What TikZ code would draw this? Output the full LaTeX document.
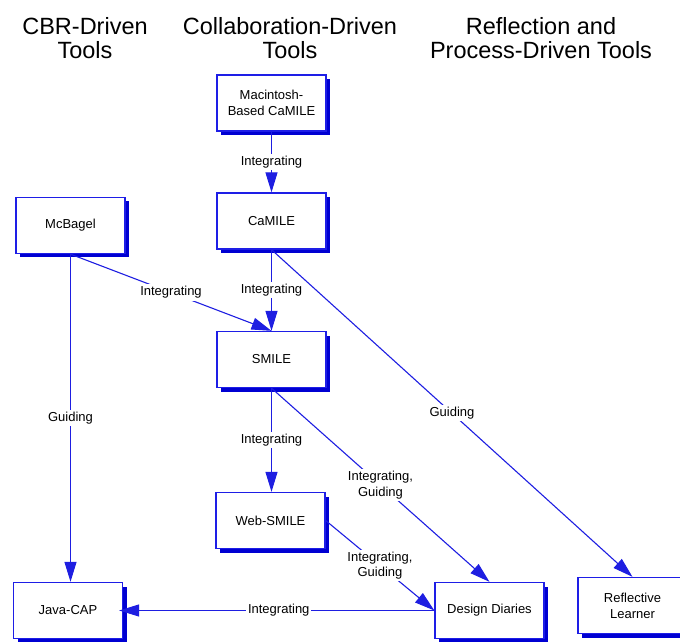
\documentclass[tikz,border=0pt]{standalone}
\usepackage{fontspec}
\setmainfont{Liberation Sans}
\usetikzlibrary{arrows.meta,shadows}
\definecolor{bl}{RGB}{30,30,230}
\definecolor{ln}{RGB}{30,30,225}
\definecolor{sh}{RGB}{0,0,210}
\begin{document}
\begin{tikzpicture}[x=1pt,y=1pt,
 box/.style={draw=bl,line width=1.3pt,fill=white,minimum width=109pt,minimum height=56pt,align=center,inner sep=2pt,
   font=\fontsize{13}{16}\selectfont,
   drop shadow={shadow xshift=4pt,shadow yshift=-4pt,fill=sh,opacity=1}},
 conn/.style={draw=ln,line width=1.1pt,-{Triangle[length=20pt,width=12pt]}},
 lbl/.style={fill=white,inner sep=2pt,align=center,font=\fontsize{13}{15.5}\selectfont},
 hdr/.style={align=center,font=\fontsize{23.5}{24}\selectfont}]
\useasboundingbox (0,0) rectangle (680,641);
\clip (0,0) rectangle (680,641);
% headers
\node[hdr] (h1) at (85,603) {CBR-Driven\\Tools};
\node[hdr] (h2) at (290,603) {Collaboration-Driven\\Tools};
\node[hdr] (h3) at (541,603) {Reflection and\\Process-Driven Tools};
% boxes
\node[box] (mac) at (271.5,538) {Macintosh-\\Based CaMILE};
\node[box] (camile) at (271.5,420) {CaMILE};
\node[box] (mcbagel) at (70.5,415.5) {McBagel};
\node[box] (smile) at (271.5,281.5) {SMILE};
\node[box] (web) at (270.5,120.5) {Web-SMILE};
\node[box] (dd) at (489.5,30.5) {Design Diaries};
\node[box] (java) at (68,30.5) {Java-CAP};
\node[box] (refl) at (632.5,35.5) {Reflective\\Learner};
% connectors
\draw[conn] (mac.south) -- node[lbl] {Integrating} (camile.north);
\draw[conn] (camile.south) -- node[lbl] {Integrating} (smile.north);
\draw[conn] (mcbagel.south) -- node[lbl] {Integrating} (smile.north);
\draw[conn] (mcbagel.south) -- node[lbl] {Guiding} (mcbagel.south |- java.north);
\draw[conn] (camile.south) -- node[lbl] {Guiding} (refl.north);
\draw[conn] (smile.south) -- node[lbl] {Integrating} (smile.south |- web.north);
\draw[conn] (smile.south) -- node[lbl] {Integrating,\\Guiding} (dd.north);
\draw[conn] (web.east) -- node[lbl] {Integrating,\\Guiding} (dd.west);
\draw[conn,shorten >=-4pt] (dd.west) -- node[lbl] {Integrating} (java.east);
\end{tikzpicture}
\end{document}
